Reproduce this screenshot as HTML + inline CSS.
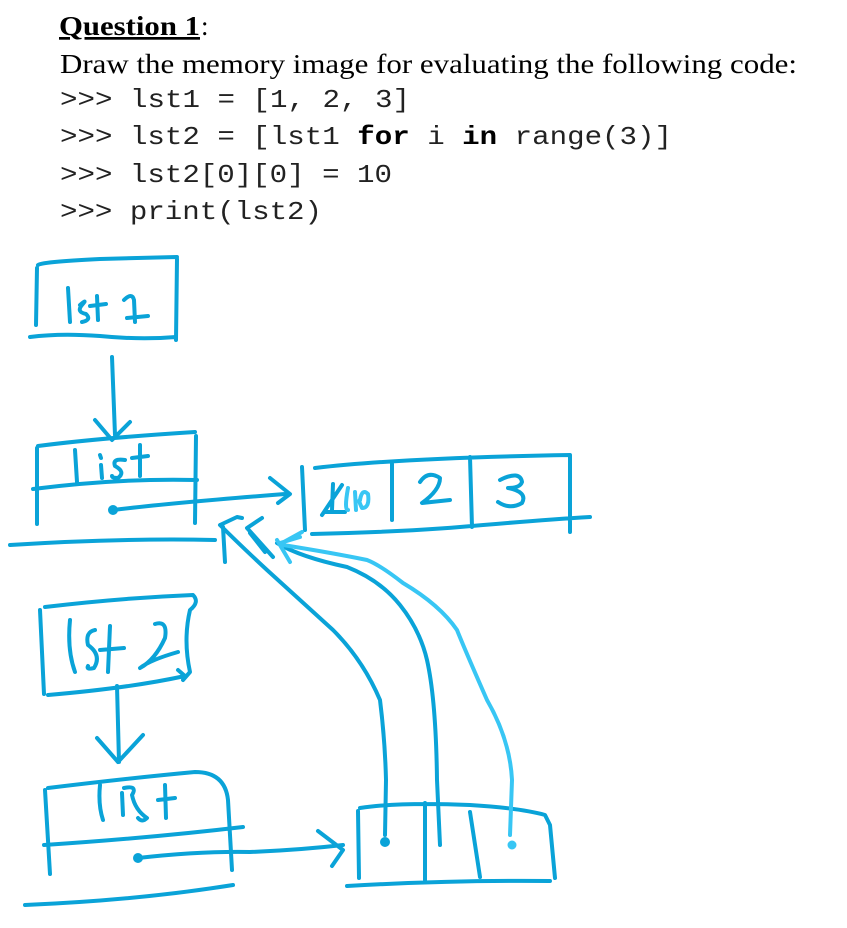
<!DOCTYPE html>
<html><head><meta charset="utf-8"><style>
html,body{margin:0;padding:0;background:#fff;}
svg{display:block}
</style></head><body>
<svg width="847" height="928" viewBox="0 0 847 928" xmlns="http://www.w3.org/2000/svg">
<text x="59" y="35" font-family="Liberation Serif, serif" font-weight="bold" font-size="27" text-decoration="underline" textLength="141" lengthAdjust="spacingAndGlyphs" fill="#000">Question 1</text>
<text x="201" y="35" font-family="Liberation Serif, serif" font-size="27" fill="#000">:</text>
<text x="60" y="73" font-family="Liberation Serif, serif" font-size="27" textLength="737" lengthAdjust="spacingAndGlyphs" fill="#000">Draw the memory image for evaluating the following code:</text>
<g font-family="Liberation Mono, monospace" font-size="26" fill="#222">
<text x="60" y="107" textLength="350" lengthAdjust="spacingAndGlyphs">&gt;&gt;&gt; lst1 = [1, 2, 3]</text>
<text x="60" y="144" textLength="612" lengthAdjust="spacingAndGlyphs">&gt;&gt;&gt; lst2 = [lst1 <tspan font-weight="bold" fill="#000">for</tspan> i <tspan font-weight="bold" fill="#000">in</tspan> range(3)]</text>
<text x="60" y="182" textLength="332" lengthAdjust="spacingAndGlyphs">&gt;&gt;&gt; lst2[0][0] = 10</text>
<text x="60" y="219" textLength="262" lengthAdjust="spacingAndGlyphs">&gt;&gt;&gt; print(lst2)</text>
</g>
<g fill="none" stroke="#0aa3d8" stroke-width="4" stroke-linecap="round" stroke-linejoin="round">
<!-- lst1 box -->
<path d="M38 265 Q40 262 100 259 L177 257 M37 268 L36 325 M177 259 L176 340 M30 337 Q60 333 100 336 Q140 340 176 337"/>
<path d="M68 288 L70 322 M80 305 Q88 298 82 305 Q76 312 86 314 Q92 320 82 322 M97 296 L98 320 M90 306 L106 304 M124 300 Q132 292 134 300 L135 322 M127 318 L148 316"/>
<path d="M112 357 L115 435 M95 420 L112 440 L130 422"/>
<!-- list box 1 -->
<path d="M38 446 Q100 438 195 432 M37 448 L37 524 M196 436 L195 523 M33 489 Q120 478 197 480 M75 450 L77 482"/>
<path d="M100 455 L101 458 M101 465 L102 478 M125 460 Q112 458 115 466 Q126 472 118 478 Q112 478 112 476 M140 445 L140 476 M132 458 L148 456"/>
<path d="M113 510 Q170 503 285 494 M270 478 L290 494 L278 503"/>
<circle cx="113" cy="510" r="3" fill="#0aa3d8"/>
<path d="M10 545 Q120 538 215 540"/>
<!-- big list -->
<path d="M302 467 L305 530 M315 468 Q400 458 570 455 L570 532 M312 534 Q400 532 460 527 Q540 520 590 517 M392 463 L392 520 M470 457 L472 527"/>
<path d="M420 482 Q428 470 440 478 Q440 490 422 503 L450 500"/>
<path d="M500 480 Q520 470 522 482 Q520 488 508 488 Q528 492 522 503 Q510 510 498 502"/>
<path d="M333 484 L332 510 M325 512 L345 512 M322 515 L342 485"/>
<!-- lst2 box -->
<path d="M45 607 Q120 598 193 595 Q200 602 190 610 Q183 640 190 672 L183 680 M40 610 L44 694 M48 695 Q130 688 185 676 L178 670"/>
<path d="M70 620 Q67 650 75 672 M95 630 Q85 632 88 645 Q102 655 94 668 Q86 670 88 666 M110 626 L108 672 M100 650 L124 648 M155 624 Q168 620 165 638 Q155 660 140 668 Q150 660 178 652"/>
<path d="M117 686 L119 762 M97 738 L118 762 L143 735"/>
<!-- list box 2 -->
<path d="M48 788 Q130 778 195 772 Q225 772 228 800 L232 870 M45 790 L50 874 M44 845 Q150 838 243 827"/>
<path d="M100 785 Q98 805 103 820 M122 793 L123 815 M124 788 Q138 785 132 795 Q135 810 147 818 Q142 823 138 818 M165 785 L166 818 M158 800 L175 798"/>
<path d="M138 858 Q200 851 250 852 Q300 850 343 845 M318 831 L343 850 L332 866"/>
<circle cx="138" cy="858" r="3" fill="#0aa3d8"/>
<path d="M25 905 Q140 900 233 885"/>
<!-- bottom box -->
<path d="M358 811 L359 878 M360 808 Q400 802 470 805 Q520 808 545 815 L550 825 L555 878 M347 886 Q450 880 550 881 M425 803 L425 880 M470 812 L480 877"/>
<!-- curves -->
<path d="M385 835 L386 780 Q385 740 380 700 Q363 660 333 630 Q300 600 267 570 Q240 545 220 525 M220 525 L237 517 L242 518 M223 527 L225 562"/>
<path d="M440 845 L437 780 Q436 700 427 660 Q420 630 400 605 Q380 580 347 567 Q300 557 277 543 M262 518 L247 528 L273 557 M250 533 L265 552"/>
<circle cx="385" cy="842" r="3" fill="#0aa3d8"/>
</g>
<g fill="none" stroke="#38c6f4" stroke-width="4" stroke-linecap="round" stroke-linejoin="round">
<path d="M510 835 L512 780 Q510 740 487 700 Q465 650 457 630 Q440 605 403 583 Q380 565 367 560 Q333 553 283 545 M277 540 L290 562 M280 543 L300 537 M302 532 L282 543"/>
<path d="M348 488 Q344 510 348 510 M355 492 L356 510 M360 500 Q362 488 368 494 Q370 508 362 508 Q358 500 360 500"/>
<circle cx="512" cy="845" r="2.5" fill="#38c6f4"/>
</g>
</svg>
</body></html>
